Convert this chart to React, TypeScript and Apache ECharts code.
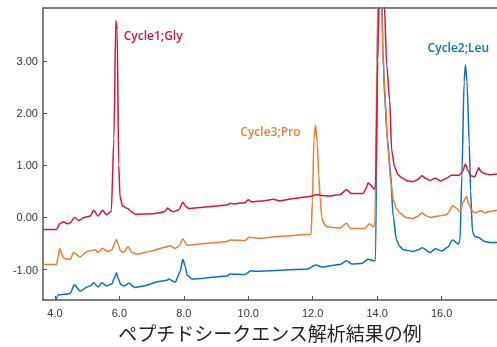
import React, { useEffect, useRef } from "react";
import * as echarts from "echarts";

const xTicks = [4, 6, 8, 10, 12, 14, 16];
const yTicks = [-1, 0, 1, 2, 3];

const seriesNames = ["Cycle1;Gly", "Cycle3;Pro", "Cycle2;Leu"];
const seriesColors = ["#dc143c", "#ed7d31", "#0a72ba"];

const redData: number[][] = [
  [3.63, -0.23], [4.05, -0.23], [4.15, -0.12], [4.27, -0.08], [4.38, -0.12], [4.48, -0.1], [4.6, 0.0],
  [4.74, -0.06], [4.9, 0.0], [5.1, 0.03], [5.2, 0.14], [5.34, 0.03], [5.48, 0.14], [5.6, 0.05], [5.75, 0.12],
  [5.83, 1.5], [5.89, 3.77], [5.93, 3.6], [5.98, 1.0], [6.02, 0.4], [6.1, 0.22], [6.27, 0.17], [6.35, 0.12],
  [6.5, 0.06], [7.0, 0.07], [7.27, 0.09], [7.42, 0.12], [7.5, 0.18], [7.6, 0.13], [7.68, 0.11], [7.85, 0.15],
  [7.97, 0.29], [8.05, 0.22], [8.15, 0.17], [8.5, 0.19], [9.0, 0.22], [9.34, 0.24], [9.44, 0.27], [9.55, 0.26],
  [9.9, 0.28], [10.0, 0.34], [10.1, 0.3], [10.5, 0.32], [10.78, 0.35], [10.95, 0.32], [11.5, 0.37], [11.92, 0.4],
  [12.12, 0.44], [12.3, 0.42], [12.54, 0.41], [12.85, 0.44], [13.05, 0.53], [13.2, 0.46], [13.57, 0.46],
  [13.65, 0.55], [13.72, 0.66], [13.8, 0.62], [13.9, 0.54], [13.95, 0.6], [14.02, 3.0], [14.07, 4.5],
  [14.15, 5.5], [14.22, 4.1], [14.3, 2.9], [14.39, 2.24], [14.45, 1.29], [14.54, 0.97], [14.65, 0.82],
  [14.76, 0.76], [14.95, 0.7], [15.12, 0.69], [15.25, 0.72], [15.4, 0.8], [15.5, 0.75], [15.64, 0.71],
  [15.8, 0.75], [15.98, 0.7], [16.15, 0.75], [16.3, 0.81], [16.55, 0.81], [16.65, 0.88], [16.74, 1.02],
  [16.82, 0.9], [16.9, 0.8], [17.03, 0.78], [17.1, 0.88], [17.15, 0.95], [17.22, 0.88], [17.34, 0.84],
  [17.5, 0.82], [17.72, 0.83],
];

const orangeData: number[][] = [
  [3.63, -0.9], [4.05, -0.9], [4.1, -0.75], [4.15, -0.59], [4.2, -0.68], [4.27, -0.78], [4.48, -0.8],
  [4.58, -0.67], [4.65, -0.7], [4.77, -0.76], [5.0, -0.65], [5.15, -0.63], [5.25, -0.62], [5.34, -0.67],
  [5.48, -0.59], [5.62, -0.65], [5.77, -0.62], [5.85, -0.5], [5.91, -0.42], [5.97, -0.52], [6.03, -0.64],
  [6.13, -0.67], [6.27, -0.56], [6.39, -0.67], [6.55, -0.7], [7.0, -0.64], [7.42, -0.57], [7.56, -0.54],
  [7.73, -0.59], [7.85, -0.55], [7.97, -0.41], [8.1, -0.53], [8.5, -0.51], [9.0, -0.48], [9.34, -0.46],
  [9.44, -0.43], [9.9, -0.44], [10.03, -0.38], [10.37, -0.4], [11.0, -0.36], [11.95, -0.32], [11.99, 0.3],
  [12.04, 1.5], [12.09, 1.77], [12.14, 1.45], [12.19, 0.8], [12.23, 0.38], [12.28, 0.02], [12.33, -0.1],
  [12.44, -0.18], [12.85, -0.2], [13.05, -0.11], [13.18, -0.21], [13.62, -0.21], [13.76, -0.12],
  [13.88, -0.18], [13.93, -0.15], [14.0, 3.0], [14.04, 5.0], [14.1, 5.5], [14.13, 4.2], [14.2, 2.8],
  [14.34, 1.29], [14.42, 0.7], [14.5, 0.34], [14.6, 0.17], [14.71, 0.08], [14.9, 0.0], [15.12, -0.02],
  [15.25, 0.02], [15.4, 0.09], [15.5, 0.04], [15.64, 0.0], [15.9, 0.03], [16.15, 0.05], [16.36, 0.23],
  [16.45, 0.18], [16.57, 0.11], [16.68, 0.3], [16.77, 0.4], [16.85, 0.25], [16.93, 0.14], [17.03, 0.09],
  [17.22, 0.13], [17.34, 0.09], [17.5, 0.12], [17.72, 0.14],
];

const blueData: number[][] = [
  [4.0, -1.62], [4.12, -1.48], [4.33, -1.47], [4.48, -1.45], [4.6, -1.29], [4.79, -1.41], [5.0, -1.33],
  [5.1, -1.31], [5.2, -1.25], [5.34, -1.33], [5.46, -1.25], [5.6, -1.31], [5.77, -1.27], [5.85, -1.15],
  [5.91, -1.06], [5.97, -1.18], [6.05, -1.29], [6.15, -1.31], [6.29, -1.26], [6.49, -1.34], [6.75, -1.31],
  [7.27, -1.22], [7.48, -1.2], [7.53, -1.18], [7.73, -1.24], [7.88, -1.05], [7.97, -0.8], [8.05, -0.95],
  [8.1, -1.1], [8.25, -1.18], [9.34, -1.12], [9.44, -1.08], [9.9, -1.09], [10.08, -1.02], [10.2, -1.03],
  [11.82, -0.99], [12.1, -0.91], [12.28, -0.95], [12.85, -0.9], [13.05, -0.83], [13.21, -0.89],
  [13.52, -0.88], [13.72, -0.8], [13.9, -0.83], [13.95, -0.82], [14.03, 4.5], [14.1, 6.0], [14.18, 3.2],
  [14.24, 2.24], [14.32, 1.5], [14.4, 0.97], [14.5, 0.02], [14.6, -0.43], [14.7, -0.55], [14.81, -0.62],
  [15.12, -0.65], [15.27, -0.62], [15.4, -0.58], [15.64, -0.67], [15.81, -0.6], [16.0, -0.64],
  [16.19, -0.57], [16.34, -0.43], [16.52, -0.51], [16.57, -0.45], [16.63, 0.8], [16.7, 2.6], [16.74, 2.92],
  [16.79, 2.6], [16.86, 1.4], [16.9, 0.5], [16.96, -0.28], [17.04, -0.37], [17.13, -0.38], [17.34, -0.46],
  [17.5, -0.48], [17.72, -0.48],
];

const labelCoords: number[][] = [
  [7.05, 3.48],
  [10.69, 1.64],
  [16.52, 3.25],
];

const allData = [redData, orangeData, blueData];

export default function App() {
  const ref = useRef<HTMLDivElement>(null);
  useEffect(() => {
    if (!ref.current) return;
    const chart = echarts.init(ref.current, null, { renderer: "svg" });
    const axisColor = "#555";
    const labelFont = "'Liberation Sans', Arial, sans-serif";
    chart.setOption({
      animation: false,
      grid: { left: 43, right: 0, top: 8, bottom: 47, outerBoundsMode: "none", containLabel: false },
      xAxis: [
        {
          type: "value",
          min: 3.63,
          max: 17.72,
          axisLine: { show: true, onZero: false, lineStyle: { color: axisColor, width: 1.5 } },
          axisTick: { show: true, inside: true, length: 4, customValues: xTicks, lineStyle: { color: axisColor } },
          axisLabel: {
            customValues: xTicks,
            formatter: (v: number) => v.toFixed(1),
            color: "#333",
            fontSize: 11,
            fontFamily: labelFont,
            margin: 7,
          },
          splitLine: { show: false },
          name: "ペプチドシークエンス解析結果の例",
          nameLocation: "middle",
          nameGap: 23,
          nameTextStyle: {
            fontSize: 19,
            lineHeight: 19,
            color: "#222",
            fontFamily: "'Noto Sans CJK JP', sans-serif",
          },
        },
        {
          type: "value",
          position: "top",
          min: 3.63,
          max: 17.72,
          axisLine: { show: true, onZero: false, lineStyle: { color: axisColor, width: 1.5 } },
          axisTick: { show: false },
          axisLabel: { show: false },
          splitLine: { show: false },
        },
      ],
      yAxis: {
        type: "value",
        min: -1.58,
        max: 4.01,
        axisLine: { show: true, onZero: false, lineStyle: { color: axisColor, width: 1.5 } },
        axisTick: { show: true, inside: true, length: 4, customValues: yTicks, lineStyle: { color: axisColor } },
        axisLabel: {
          customValues: yTicks,
          formatter: (v: number) => v.toFixed(2),
          color: "#333",
          fontSize: 11,
          fontFamily: labelFont,
          margin: 5,
        },
        splitLine: { show: false },
      },
      series: allData.map((d, i) => ({
        type: "line",
        name: seriesNames[i],
        data: d,
        xAxisIndex: 0,
        showSymbol: false,
        symbol: "none",
        smooth: 0.25,
        smoothMonotone: "x",
        lineStyle: { color: seriesColors[i], width: 1.5 },
        itemStyle: { color: seriesColors[i] },
        z: 3 - i,
        markPoint: {
          symbol: "circle",
          symbolSize: 0,
          data: [{ name: seriesNames[i], coord: labelCoords[i] }],
          label: {
            show: true,
            position: "inside",
            formatter: "{b}",
            color: seriesColors[i],
            fontSize: 12,
            fontWeight: 600,
            fontFamily: "'Open Sans', sans-serif",
          },
        },
      })),
    });
    return () => chart.dispose();
  }, []);
  return (
    <div
      ref={ref}
      style={{ position: "fixed", left: 0, top: 0, width: 497, height: 347 }}
    />
  );
}
